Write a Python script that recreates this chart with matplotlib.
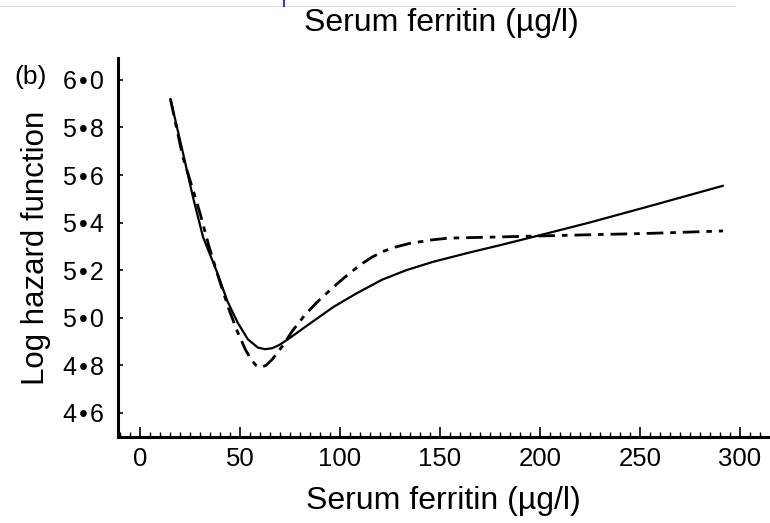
import matplotlib
matplotlib.use("Agg")
import matplotlib.pyplot as plt
from matplotlib.ticker import MultipleLocator, FixedLocator

plt.rcParams['font.family'] = ['Liberation Sans', 'DejaVu Sans']

# Data
solid_x = [15.2, 21.3, 26.4, 31.5, 38.6, 43.7, 48.8, 53.9, 58.9, 62.5, 66,
           69.5, 74, 82.3, 96.6, 107.7, 121, 133.1, 146.4, 163.6, 179.9,
           201.3, 224.6, 255.1, 291.5]
solid_y = [5.92, 5.70, 5.51, 5.34, 5.19, 5.07, 4.98, 4.91, 4.875, 4.868,
           4.872, 4.885, 4.91, 4.96, 5.045, 5.10, 5.16, 5.20, 5.235, 5.272,
           5.305, 5.35, 5.40, 5.47, 5.555]

dash_x = [15.2, 21.3, 26.4, 30, 34.5, 39.6, 44.7, 48.8, 52.8, 55.5, 58, 60.5,
          63, 66.1, 71.1, 76.2, 82.3, 88.4, 95.5, 101.6, 110, 116, 121.5, 128,
          135, 146.4, 154.5, 179.9, 204.3, 255.1, 291.5]
dash_y = [5.92, 5.68, 5.54, 5.44, 5.30, 5.16, 5.03, 4.94, 4.865, 4.825, 4.80,
          4.792, 4.80, 4.825, 4.88, 4.945, 5.01, 5.065, 5.12, 5.165, 5.222,
          5.255, 5.279, 5.298, 5.313, 5.328, 5.335, 5.34, 5.345, 5.355, 5.365]

x_ticks = [0, 50, 100, 150, 200, 250, 300]
y_ticks = [4.6, 4.8, 5.0, 5.2, 5.4, 5.6, 5.8, 6.0]
y_tick_labels = ['4\u200a•\u200a6', '4\u200a•\u200a8', '5\u200a•\u200a0',
                 '5\u200a•\u200a2', '5\u200a•\u200a4', '5\u200a•\u200a6',
                 '5\u200a•\u200a8', '6\u200a•\u200a0']

W, H = 770, 523
fig = plt.figure(figsize=(W / 100, H / 100), dpi=100)
ax = fig.add_axes([118 / W, (H - 437) / H, (768 - 118) / W, (437 - 58) / H])

ax.plot(solid_x, solid_y, color='black', lw=1.6, solid_capstyle='round',
        solid_joinstyle='round')
ax.plot(dash_x, dash_y, color='black', lw=2.0, linestyle=(0, (6, 2.5, 2, 2.5)))

ax.set_xlim(-11, 314)
ax.set_ylim(4.499, 6.092)

for s in ['top', 'right']:
    ax.spines[s].set_visible(False)
for s in ['left', 'bottom']:
    ax.spines[s].set_linewidth(2.2)

ax.xaxis.set_major_locator(FixedLocator(x_ticks))
ax.xaxis.set_minor_locator(MultipleLocator(5))
ax.yaxis.set_major_locator(FixedLocator(y_ticks))
ax.set_yticklabels(y_tick_labels)

ax.tick_params(axis='x', which='major', direction='in', length=7, width=1.2,
               labelsize=18.5, pad=7)
ax.tick_params(axis='x', which='minor', direction='in', length=3.5, width=1.0)
ax.tick_params(axis='y', which='major', direction='in', length=3.5, width=1.2,
               labelsize=18, pad=10)

ax.set_xlabel('Serum ferritin (µg/l)', fontsize=23, labelpad=11)
ax.set_ylabel('Log hazard function', fontsize=22.5, labelpad=9)

fig.text(14 / W, 1 - 77 / H, '(b)', fontsize=19, ha='left', va='center')
fig.text(441 / W, 1 - 23 / H, 'Serum ferritin (µg/l)', fontsize=23,
         ha='center', va='center')
# faint cropped line at the very top
fig.add_artist(plt.Line2D([0, 735 / W], [1 - 6 / H, 1 - 6 / H],
                          color='#dddddd', lw=0.8))
fig.add_artist(plt.Line2D([284 / W, 284 / W], [1, 1 - 6 / H],
                          color='#1a3cff', lw=1.5))

fig.savefig('out.png', dpi=100)
